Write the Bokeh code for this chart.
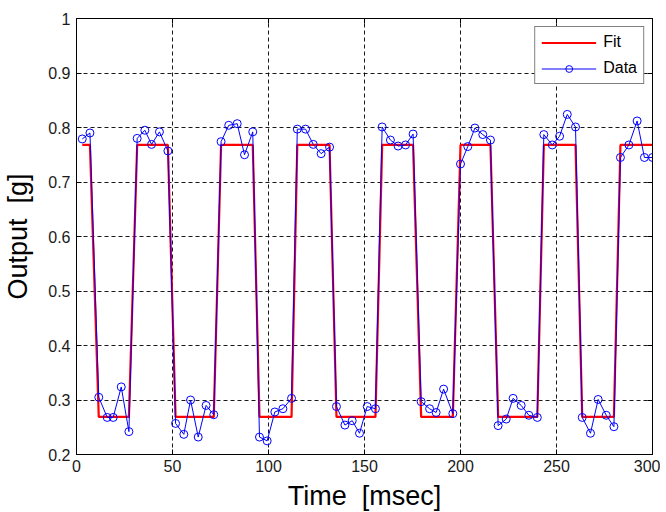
from bokeh.plotting import figure
from bokeh.models import (LinearAxis, FixedTicker, CustomJSTickFormatter, Legend,
                          LegendItem, ColumnDataSource, Range1d)
from bokeh.embed import file_html
from bokeh.resources import INLINE

# ---- data ----
data_t = [3.0, 7.0, 11.6, 16.0, 19.1, 23.3, 27.3, 31.6, 35.6, 39.1, 43.2, 47.6,
          51.6, 55.9, 59.4, 63.4, 67.5, 71.5, 75.3, 79.3, 83.7, 87.5, 91.8,
          95.3, 99.3, 103.3, 107.5, 112.0, 115.0, 119.3, 123.3, 127.4, 131.8,
          135.4, 139.8, 143.6, 147.4, 151.4, 155.7, 159.2, 163.5, 167.5, 171.4, 175.3,
          179.5, 183.9, 187.3, 191.2, 196.0, 200.0, 203.8, 207.5, 211.6, 215.6,
          219.6, 223.8, 227.4, 231.6, 235.6, 240.0, 243.4, 247.8, 251.6, 255.6, 259.9,
          263.4, 267.7, 271.7, 275.9, 279.9, 283.3, 287.7, 292.0, 295.8, 300.0]
data_y = [0.779, 0.790, 0.305, 0.268, 0.268, 0.324, 0.242, 0.780, 0.795, 0.769, 0.792, 0.757,
          0.257, 0.237, 0.300, 0.232, 0.290, 0.273, 0.774, 0.804, 0.807, 0.750, 0.792,
          0.232, 0.225, 0.278, 0.284, 0.303, 0.797, 0.797, 0.769, 0.752, 0.764,
          0.288, 0.254, 0.262, 0.239, 0.288, 0.284, 0.801, 0.777, 0.766, 0.768, 0.788,
          0.297, 0.284, 0.277, 0.320, 0.275, 0.733, 0.765, 0.799, 0.787, 0.777,
          0.253, 0.265, 0.303, 0.290, 0.272, 0.268, 0.787, 0.768, 0.784, 0.824, 0.801,
          0.268, 0.239, 0.301, 0.272, 0.251, 0.745, 0.768, 0.812, 0.745, 0.745]
fit_y = [0.768, 0.768,
         0.269, 0.269, 0.269, 0.269, 0.269,
         0.768, 0.768, 0.768, 0.768, 0.768,
         0.269, 0.269, 0.269, 0.269, 0.269, 0.269,
         0.768, 0.768, 0.768, 0.768, 0.768,
         0.269, 0.269, 0.269, 0.269, 0.269,
         0.768, 0.768, 0.768, 0.768, 0.768,
         0.269, 0.269, 0.269, 0.269, 0.269, 0.269,
         0.768, 0.768, 0.768, 0.768, 0.768,
         0.269, 0.269, 0.269, 0.269, 0.269,
         0.768, 0.768, 0.768, 0.768, 0.768,
         0.269, 0.269, 0.269, 0.269, 0.269, 0.269,
         0.768, 0.768, 0.768, 0.768, 0.768,
         0.269, 0.269, 0.269, 0.269, 0.269,
         0.768, 0.768, 0.768, 0.768, 0.768]
x_ticks = [0, 50, 100, 150, 200, 250, 300]
y_ticks = [0.2, 0.3, 0.4, 0.5, 0.6, 0.7, 0.8, 0.9, 1.0]
x_label = "Time \u00a0[msec]"
y_label = "Output \u00a0[g]"

FONT = "Liberation Sans"

src = ColumnDataSource(dict(t=data_t, y=data_y, fit=fit_y))

p = figure(frame_width=576, frame_height=436,
           x_range=Range1d(0, 300), y_range=Range1d(0.2, 1.0),
           output_backend="svg", toolbar_location=None,
           min_border_left=76, min_border_top=18, min_border_right=8,
           min_border_bottom=50,
           background_fill_color="white", border_fill_color="white")
p.outline_line_color = "black"
p.outline_line_width = 1
p.outline_line_alpha = 1

fit_r = p.line("t", "fit", source=src, line_color="#FF0000", line_width=2.2)
data_line = p.line("t", "y", source=src, line_color="#0000FF", line_width=1)
data_pts = p.scatter("t", "y", source=src, marker="circle", size=8,
                     line_color="#0000FF", fill_color=None, line_width=1)

ytf = CustomJSTickFormatter(code="return tick >= 0.999 ? '1' : tick.toFixed(1);")

for ax in [p.xaxis[0], p.yaxis[0]]:
    ax.major_tick_in = 5
    ax.major_tick_out = 0
    ax.minor_tick_line_color = None
    ax.axis_line_color = "black"
    ax.major_tick_line_color = "black"
    ax.major_label_text_font = FONT
    ax.major_label_text_font_size = "16px"
    ax.major_label_text_color = "#1a1a1a"
    ax.axis_label_text_font = FONT
    ax.axis_label_text_font_style = "normal"
    ax.axis_label_text_font_size = "27px"
    ax.axis_label_text_color = "black"

p.xaxis.ticker = FixedTicker(ticks=x_ticks)
p.yaxis.ticker = FixedTicker(ticks=y_ticks)
p.yaxis.formatter = ytf
p.xaxis.axis_label = x_label
p.yaxis.axis_label = y_label
p.xaxis.major_label_standoff = 5
p.yaxis.major_label_standoff = 6
p.xaxis.axis_label_standoff = 6
p.yaxis.axis_label_standoff = 12

blank = CustomJSTickFormatter(code="return '';")
top = LinearAxis(ticker=FixedTicker(ticks=x_ticks), formatter=blank)
right = LinearAxis(ticker=FixedTicker(ticks=y_ticks), formatter=blank)
for ax in [top, right]:
    ax.major_tick_in = 5
    ax.major_tick_out = 0
    ax.minor_tick_line_color = None
    ax.axis_line_color = "black"
    ax.major_tick_line_color = "black"
    ax.major_label_standoff = 0
    ax.major_label_text_font_size = "1px"
    ax.major_label_text_color = None
p.add_layout(top, "above")
p.add_layout(right, "right")

for g, tk in [(p.xgrid[0], x_ticks), (p.ygrid[0], y_ticks)]:
    g.ticker = FixedTicker(ticks=tk)
    g.grid_line_color = "black"
    g.grid_line_dash = "4 3"
    g.grid_line_width = 1
    g.grid_line_alpha = 0.9

legend = Legend(items=[LegendItem(label="Fit", renderers=[fit_r]),
                       LegendItem(label="Data", renderers=[data_line, data_pts])],
                location="top_right")
legend.margin = 8
legend.padding = 6
legend.spacing = 8
legend.glyph_width = 55
legend.glyph_height = 17
legend.label_height = 17
legend.label_standoff = 7
legend.label_text_font = FONT
legend.label_text_font_size = "16px"
legend.label_text_color = "black"
legend.border_line_color = "black"
legend.border_line_width = 1
legend.background_fill_color = "white"
legend.background_fill_alpha = 1
p.add_layout(legend, "center")

open("out.html", "w").write(file_html(p, INLINE))
